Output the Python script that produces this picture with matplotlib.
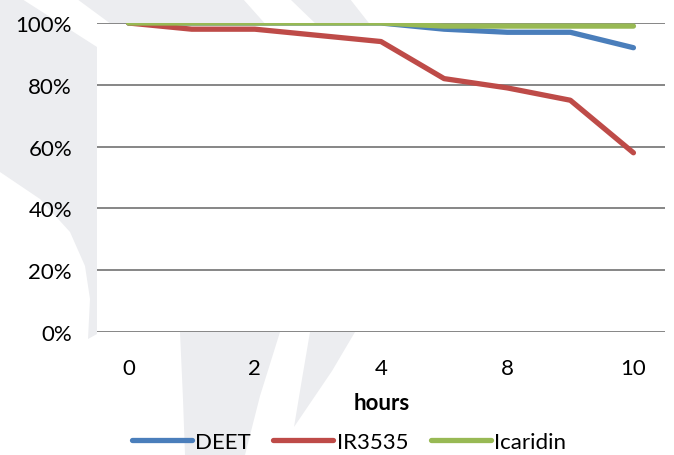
import numpy as np
import matplotlib.pyplot as plt
from matplotlib.patches import Polygon
from matplotlib.lines import Line2D

# Data
hours = ['0', '1', '2', '3', '4', '6', '8', '9', '10']
deet = [100, 100, 100, 100, 100, 98, 97, 97, 92]
ir3535 = [100, 98, 98, 96, 94, 82, 79, 75, 58]
icaridin = [100, 100, 100, 100, 100, 99, 99, 99, 99]
shown_labels = ['0', '2', '4', '8', '10']

W, H = 674, 456
plt.rcParams['font.family'] = ['Lato', 'DejaVu Sans']
fs = 16

fig = plt.figure(figsize=(W / 100, H / 100), dpi=100)
fig.patch.set_facecolor('white')


def px(pts):
    # pixel coords (origin top-left) -> figure fraction
    return [(x / W, 1 - y / H) for x, y in pts]


# light grey watermark behind the chart
wm = '#ECEDF0'
shapes = [
    [(0, 0), (22, 0), (97, 48), (97, 335), (88, 340), (90, 300), (85, 267),
     (70, 233), (40, 200), (0, 173)],
    [(77, 0), (243, 0), (268, 28), (115, 28)],
    [(290, 0), (350, 0), (372, 28), (319, 28)],
    [(180, 333), (280, 333), (270, 365), (260, 397), (245, 456), (185, 456),
     (183, 400)],
    [(310, 333), (355, 333), (332, 372), (294, 428), (302, 380)],
]
for s in shapes:
    fig.add_artist(Polygon(px(s), closed=True, facecolor=wm, edgecolor='none',
                           transform=fig.transFigure, zorder=0))

ax = fig.add_axes([97 / W, 1 - 333 / H, (665 - 97) / W, (333 - 24) / H])
ax.set_facecolor('white')
ax.set_zorder(1)

x = np.arange(len(hours))
ax.plot(x, np.array(deet) / 100, color='#4A7EBB', lw=3.8, solid_capstyle='round',
        solid_joinstyle='round', label='DEET', zorder=3)
ax.plot(x, np.array(ir3535) / 100, color='#BE4B48', lw=3.8, solid_capstyle='round',
        solid_joinstyle='round', label='IR3535', zorder=3)
ax.plot(x, np.array(icaridin) / 100, color='#98B954', lw=3.8, solid_capstyle='round',
        solid_joinstyle='round', label='Icaridin', zorder=4)

ax.set_xlim(-0.5, len(hours) - 0.5)
ax.set_ylim(0, 1)
ax.set_yticks(np.arange(0, 1.01, 0.2))
ax.set_yticklabels([f'{int(round(v * 100))}%' for v in np.arange(0, 1.01, 0.2)])
ax.set_xticks(x[::2])
ax.set_xticklabels(shown_labels)
ax.tick_params(length=0, labelsize=fs, colors='black')
ax.tick_params(axis='y', pad=18)
ax.tick_params(axis='x', pad=19)
ax.grid(axis='y', color='#868686', lw=1.4, zorder=1)
ax.set_axisbelow(True)
for sp in ax.spines.values():
    sp.set_visible(False)

fig.text(382 / W, 1 - 404 / H, 'hours', ha='center', va='center',
         fontsize=fs, fontweight='bold')

handles = [Line2D([], [], color=c, lw=3.8, solid_capstyle='round')
           for c in ['#4A7EBB', '#BE4B48', '#98B954']]
fig.legend(handles, ['DEET', 'IR3535', 'Icaridin'], loc='center',
           bbox_to_anchor=(349 / W, 1 - 443 / H), ncol=3, frameon=False,
           fontsize=fs, handlelength=2.7, handletextpad=0.15, columnspacing=1.0)

fig.savefig('out.png', dpi=100)
